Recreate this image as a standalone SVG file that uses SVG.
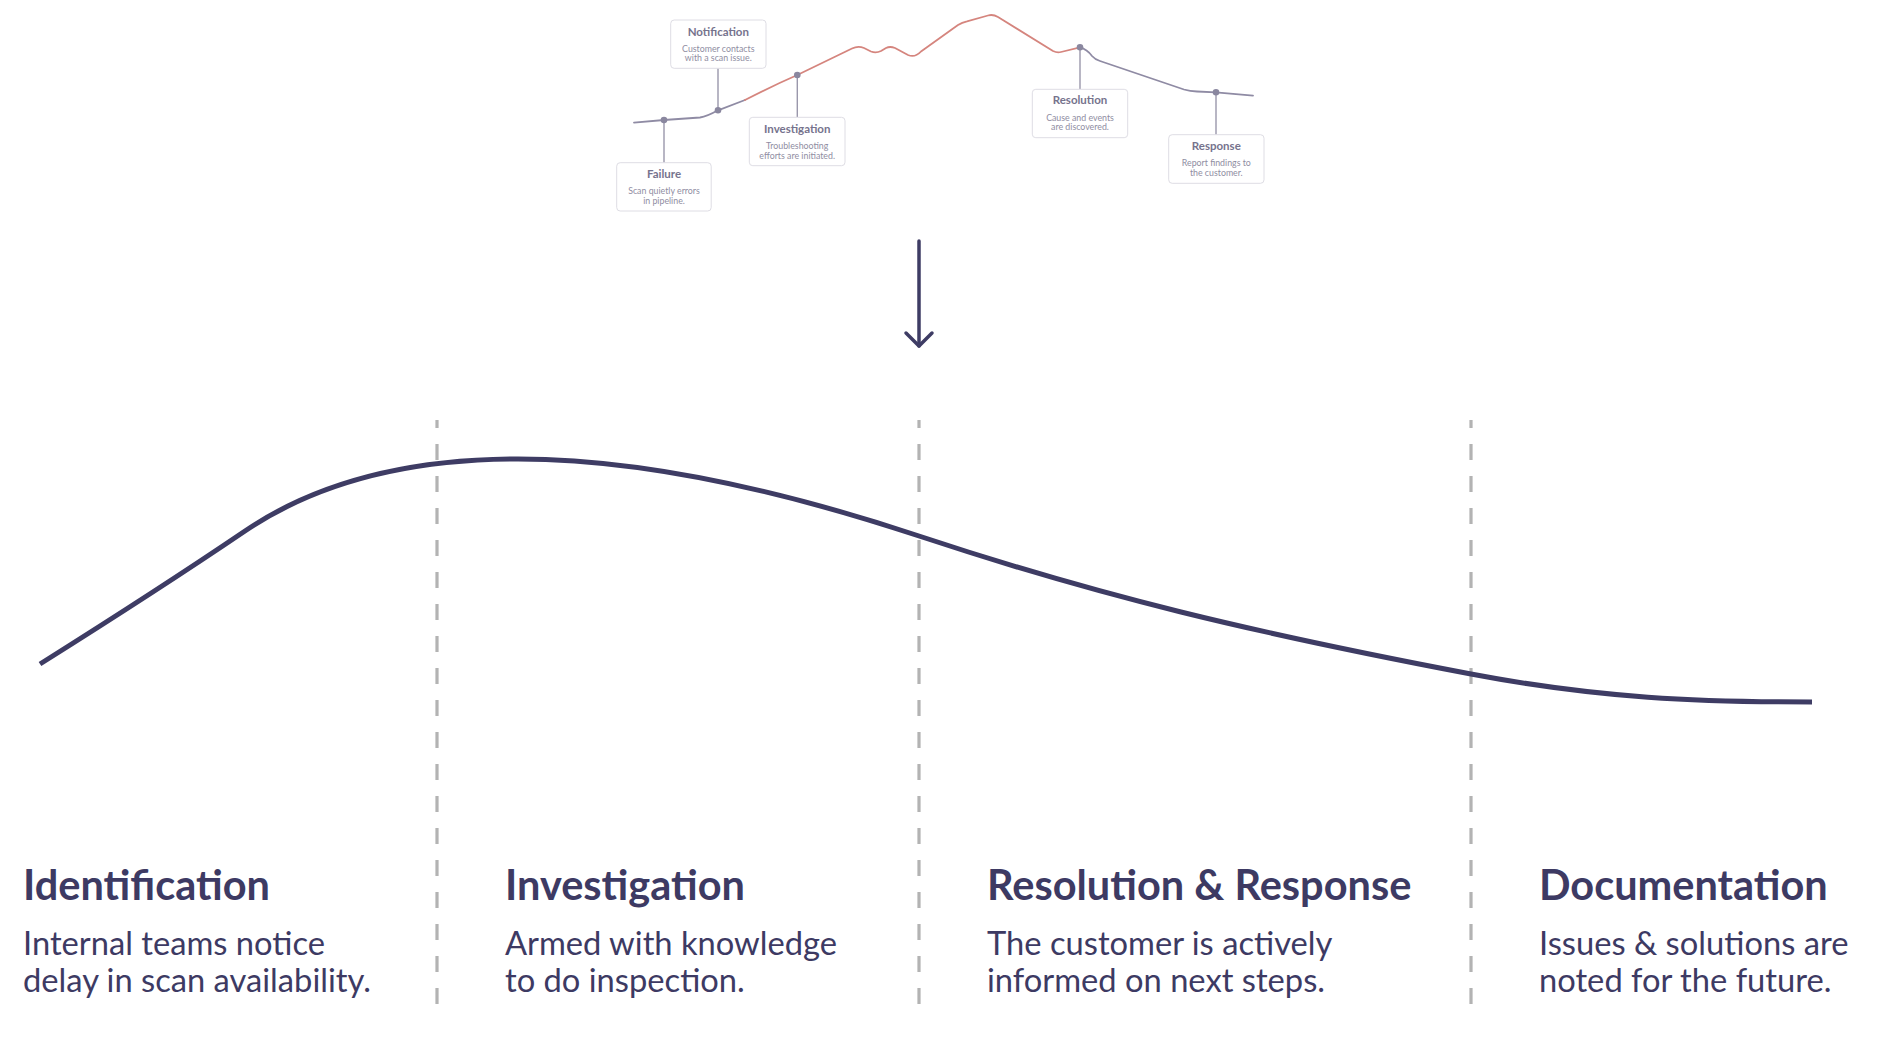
<svg xmlns="http://www.w3.org/2000/svg" width="1888" height="1052" viewBox="0 0 1888 1052">
  <style>
    .box { fill: #ffffff; stroke: #dedde4; stroke-width: 1; }
    .btitle { font-family: Lato, "Liberation Sans", sans-serif; font-weight: 700; font-size: 11.5px; fill: #76738d; text-anchor: middle; }
    .bdesc { font-family: Lato, "Liberation Sans", sans-serif; font-size: 8.8px; fill: #8f8da2; text-anchor: middle; }
    .tick { stroke: #9a97ab; stroke-width: 1.4; fill: none; }
    .dot { fill: #8a879f; }
    .mini-grey { stroke: #8f8ba4; stroke-width: 1.8; fill: none; stroke-linejoin: round; stroke-linecap: round; }
    .mini-red { stroke: #d5857e; stroke-width: 1.8; fill: none; stroke-linejoin: round; stroke-linecap: round; }
    .divider { stroke: #b3b3b3; stroke-width: 3.2; stroke-dasharray: 16 16; stroke-dashoffset: 8; fill: none; }
    .main { stroke: #3e3c64; stroke-width: 5; fill: none; }
    .arrow { stroke: #3e3c64; stroke-width: 3.5; fill: none; stroke-linecap: round; stroke-linejoin: round; }
    .ptitle { font-family: Lato, "Liberation Sans", sans-serif; font-weight: 700; font-size: 41.5px; fill: #3d3a63; }
    .pdesc { font-family: Lato, "Liberation Sans", sans-serif; font-size: 32.7px; fill: #3d3a63; }
  </style>
  <rect width="1888" height="1052" fill="#ffffff"/>

  <g id="connectors">
    <!-- mini timeline curve -->
    <path class="mini-grey" d="M634,122.7 L664,120 L700,117.5 Q707,116.5 718,110.3 L745,100"/>
    <path class="mini-red" d="M745,100 Q770,87 797.3,75 L852,48.5 Q858,45.5 864,48 L871,51.5 Q876,53.5 881,51 L886,48 Q890,46 895,48 L908,55 Q915,58 921,51.5 L958,25 Q962,22.5 967,21.3 L988,15.5 Q993,14 998,17 L1053,51 Q1057,53 1061,52 L1080,47.3"/>
    <path class="mini-grey" d="M1080,47.3 Q1087,49 1092,56 Q1095,59.5 1100,61 L1184,89.5 Q1190,91.3 1197,91.5 L1216,92.3 L1253,95.7"/>
    <!-- callout ticks -->
    <line class="tick" x1="664" y1="120" x2="664" y2="162.7"/>
    <line class="tick" x1="718" y1="68.3" x2="718" y2="110.3"/>
    <line class="tick" x1="797.3" y1="75" x2="797.3" y2="117.3"/>
    <line class="tick" x1="1080" y1="47.3" x2="1080" y2="89.3"/>
    <line class="tick" x1="1216" y1="92.3" x2="1216" y2="134.7"/>
    <circle class="dot" cx="664" cy="120" r="3.3"/>
    <circle class="dot" cx="718" cy="110.3" r="3.3"/>
    <circle class="dot" cx="797.3" cy="75" r="3.3"/>
    <circle class="dot" cx="1080" cy="47.3" r="3.3"/>
    <circle class="dot" cx="1216" cy="92.3" r="3.3"/>
    <!-- down arrow -->
    <line class="arrow" x1="919" y1="241" x2="919" y2="346"/>
    <polyline class="arrow" points="906,333 919,346 932,333"/>
    <!-- phase dividers -->
    <line class="divider" x1="437" y1="420" x2="437" y2="1004"/>
    <line class="divider" x1="919" y1="420" x2="919" y2="1004"/>
    <line class="divider" x1="1471" y1="420" x2="1471" y2="1004"/>
    <!-- main curve -->
    <path class="main" d="M40,664 C110,620 180,575 245,531 C310,487 400,459 518,459 C640,459 780,490 919,536 C1100,596 1250,632 1471,674 C1600,698.5 1700,702 1812,702"/>
  </g>

  <g id="callout-failure">
    <rect class="box" x="616.7" y="162.7" width="94.5" height="48.3" rx="3.5"/>
    <text class="btitle" x="664" y="177.7">Failure</text>
    <text class="bdesc" x="664" y="194.3">Scan quietly errors</text>
    <text class="bdesc" x="664" y="204">in pipeline.</text>
  </g>
  <g id="callout-notification">
    <rect class="box" x="670.7" y="20" width="95.3" height="48.3" rx="3.5"/>
    <text class="btitle" x="718.3" y="36">Notification</text>
    <text class="bdesc" x="718.3" y="51.7">Customer contacts</text>
    <text class="bdesc" x="718.3" y="61.3">with a scan issue.</text>
  </g>
  <g id="callout-investigation">
    <rect class="box" x="749.3" y="117.3" width="95.7" height="48.4" rx="3.5"/>
    <text class="btitle" x="797.2" y="132.7">Investigation</text>
    <text class="bdesc" x="797.2" y="149.3">Troubleshooting</text>
    <text class="bdesc" x="797.2" y="159">efforts are initiated.</text>
  </g>
  <g id="callout-resolution">
    <rect class="box" x="1032.3" y="89.3" width="95.4" height="48.4" rx="3.5"/>
    <text class="btitle" x="1080" y="104.3">Resolution</text>
    <text class="bdesc" x="1080" y="120.7">Cause and events</text>
    <text class="bdesc" x="1080" y="130.3">are discovered.</text>
  </g>
  <g id="callout-response">
    <rect class="box" x="1168.7" y="134.7" width="95.3" height="48.6" rx="3.5"/>
    <text class="btitle" x="1216.3" y="150">Response</text>
    <text class="bdesc" x="1216.3" y="166">Report findings to</text>
    <text class="bdesc" x="1216.3" y="175.7">the customer.</text>
  </g>

  <g id="phase-identification">
    <text class="ptitle" x="23" y="900">Identification</text>
    <text class="pdesc" x="23" y="955">Internal teams notice</text>
    <text class="pdesc" x="23" y="992">delay in scan availability.</text>
  </g>
  <g id="phase-investigation">
    <text class="ptitle" x="505" y="900">Investigation</text>
    <text class="pdesc" x="505" y="955">Armed with knowledge</text>
    <text class="pdesc" x="505" y="992">to do inspection.</text>
  </g>
  <g id="phase-resolution-response">
    <text class="ptitle" x="987" y="900">Resolution &amp; Response</text>
    <text class="pdesc" x="987" y="955">The customer is actively</text>
    <text class="pdesc" x="987" y="992">informed on next steps.</text>
  </g>
  <g id="phase-documentation">
    <text class="ptitle" x="1539" y="900">Documentation</text>
    <text class="pdesc" x="1539" y="955">Issues &amp; solutions are</text>
    <text class="pdesc" x="1539" y="992">noted for the future.</text>
  </g>
</svg>
